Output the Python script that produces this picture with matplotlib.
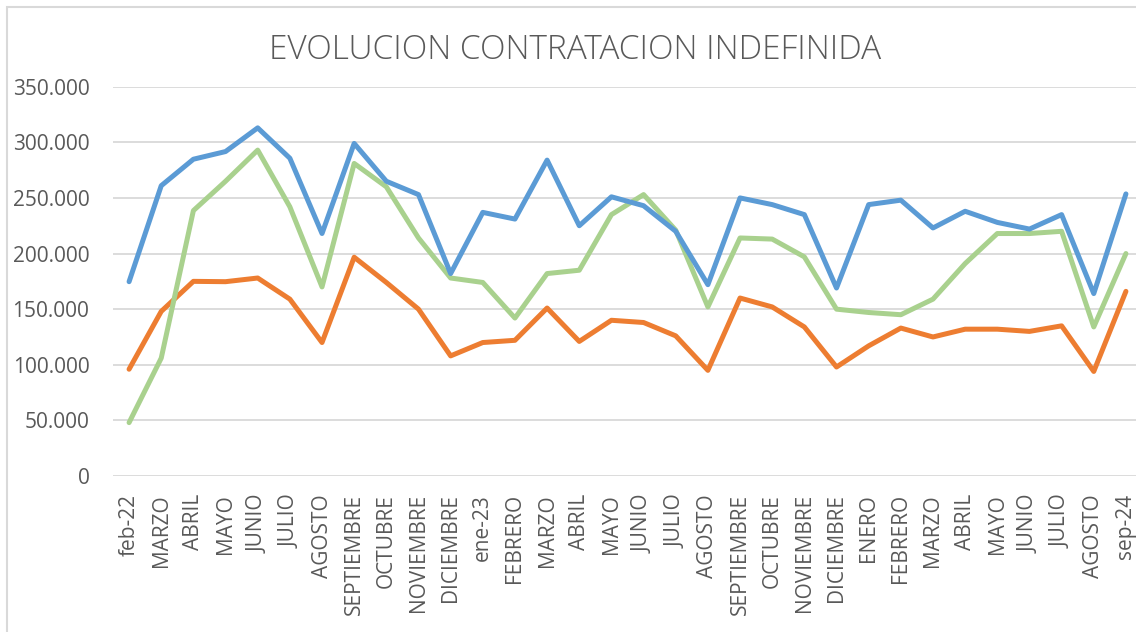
import numpy as np
import matplotlib.pyplot as plt
from matplotlib.patches import Rectangle
from matplotlib.ticker import FuncFormatter

meses = ['feb-22', 'MARZO', 'ABRIL', 'MAYO', 'JUNIO', 'JULIO', 'AGOSTO',
         'SEPTIEMBRE', 'OCTUBRE', 'NOVIEMBRE', 'DICIEMBRE', 'ene-23',
         'FEBRERO', 'MARZO', 'ABRIL', 'MAYO', 'JUNIO', 'JULIO', 'AGOSTO',
         'SEPTIEMBRE', 'OCTUBRE', 'NOVIEMBRE', 'DICIEMBRE', 'ENERO',
         'FEBRERO', 'MARZO', 'ABRIL', 'MAYO', 'JUNIO', 'JULIO', 'AGOSTO',
         'sep-24']

serie_azul = [174700, 261000, 284800, 291700, 313000, 285700, 218000, 299000,
              265000, 253000, 182000, 237000, 231000, 284000, 225000, 251000,
              243000, 220000, 172000, 250000, 244000, 235000, 169000, 244000,
              248000, 223000, 238000, 228000, 222000, 235000, 164000, 253600]

serie_naranja = [96000, 148000, 175000, 174700, 178000, 159000, 120000, 196700,
                 174000, 150000, 108000, 120000, 122000, 151000, 121000, 140000,
                 138000, 126000, 95000, 160000, 152000, 134000, 98000, 117000,
                 133000, 125000, 132000, 132000, 130000, 135000, 94000, 166000]

serie_verde = [48000, 106000, 238600, 265000, 293000, 242000, 170000, 281000,
               260000, 214000, 178000, 174000, 142000, 182000, 185000, 235000,
               253000, 221000, 152000, 214000, 213000, 197000, 150000, 147000,
               145000, 159000, 191000, 218000, 218000, 220000, 134000, 200000]

W, H = 1136, 632
fig = plt.figure(figsize=(W / 100, H / 100), dpi=100)
fig.patch.set_facecolor('white')

# axes placed in pixel terms of the reference
left, right, top, bottom = 113, 1142, 86.7, 476
ax = fig.add_axes([left / W, 1 - bottom / H, (right - left) / W, (bottom - top) / H])

x = np.arange(len(meses))
lw = 3.6
ax.plot(x, serie_naranja, color='#ED7D31', lw=lw, solid_joinstyle='round', solid_capstyle='round')
ax.plot(x, serie_verde, color='#A9D18E', lw=lw, solid_joinstyle='round', solid_capstyle='round')
ax.plot(x, serie_azul, color='#5B9BD5', lw=lw, solid_joinstyle='round', solid_capstyle='round')

ax.set_xlim(-0.5, len(meses) - 0.5)
ax.set_ylim(0, 350000)
ax.set_yticks(np.arange(0, 350001, 50000))
ax.yaxis.set_major_formatter(FuncFormatter(
    lambda v, p: '0' if v == 0 else f'{int(v):,}'.replace(',', '.')))
ax.set_xticks(x)
ax.set_xticklabels(meses, rotation=90, va='top', ha='center')

ax.grid(axis='y', color='#D9D9D9', lw=1.3, zorder=0)
ax.set_axisbelow(True)
for s in ax.spines.values():
    s.set_visible(False)
ax.tick_params(axis='both', length=0, labelcolor='#595959', labelsize=15)
ax.tick_params(axis='x', pad=13)
ax.tick_params(axis='y', pad=17)
for lab in ax.get_xticklabels() + ax.get_yticklabels():
    lab.set_fontfamily(['Open Sans', 'DejaVu Sans'])

fig.text(575 / W, 1 - 50 / H, 'EVOLUCION CONTRATACION INDEFINIDA',
         ha='center', va='center', fontsize=24, color='#595959',
         fontweight='light', family=['Open Sans', 'DejaVu Sans'])

# chart area border
fig.patches.append(Rectangle((7 / W, -0.1), 2, 1 - 7 / H + 0.1,
                             transform=fig.transFigure, fill=False,
                             edgecolor='#D9D9D9', lw=1.5))

fig.savefig('out.png', dpi=100)
